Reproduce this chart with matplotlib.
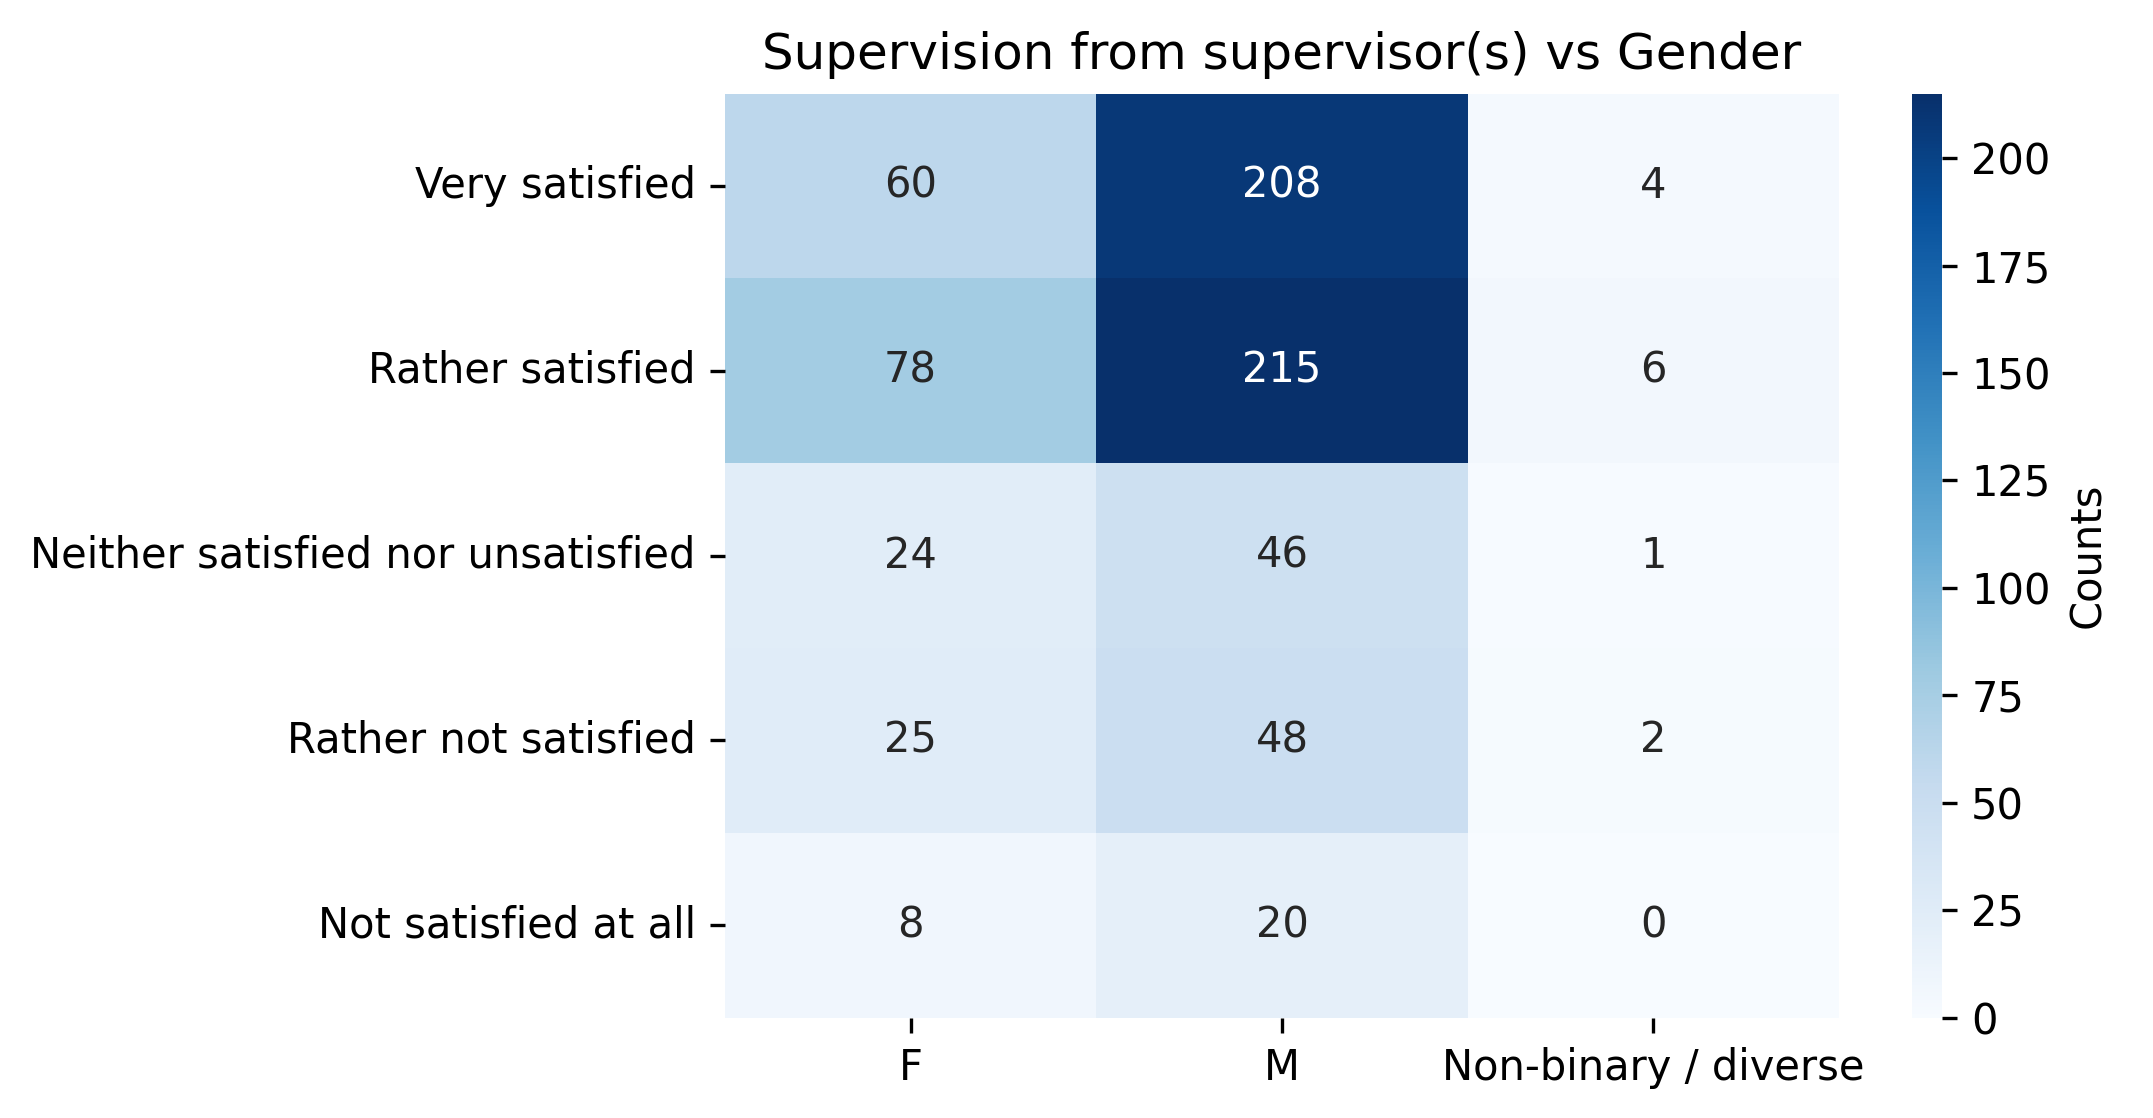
import numpy as np
import pandas as pd
import matplotlib
matplotlib.use("Agg")
import matplotlib.pyplot as plt
import seaborn as sns

responses = ["Very satisfied", "Rather satisfied", "Neither satisfied nor unsatisfied",
             "Rather not satisfied", "Not satisfied at all"]
genders = ["F", "M", "Non-binary / diverse"]
counts_f = [60, 78, 24, 25, 8]
counts_m = [208, 215, 46, 48, 20]
counts_nb = [4, 6, 1, 2, 0]

df = pd.DataFrame({"F": counts_f, "M": counts_m, "Non-binary / diverse": counts_nb},
                  index=responses)

fig = plt.figure(figsize=(2153 / 300, 1118 / 300), dpi=300)
ax = fig.add_axes([0.3367, 0.0897, 0.5175, 0.8266])
cax = fig.add_axes([0.888, 0.0897, 0.014, 0.8266])

sns.heatmap(df, annot=True, fmt="d", cmap="Blues", vmin=0, ax=ax, cbar_ax=cax,
            cbar_kws={"label": "Counts"})
ax.set_title("Supervision from supervisor(s) vs Gender")
ax.set_yticklabels(ax.get_yticklabels(), rotation=0)
ax.set_xticklabels(ax.get_xticklabels(), rotation=0)
ax.set_xlabel("")
ax.set_ylabel("")

fig.savefig("out.png", dpi=300)
